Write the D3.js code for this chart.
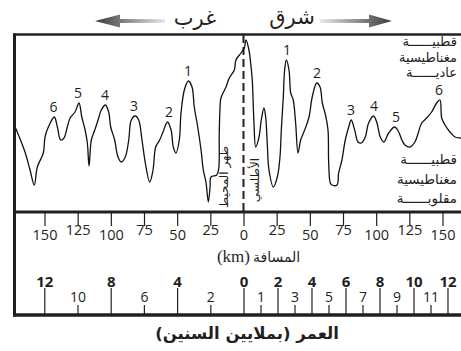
<!DOCTYPE html>
<html><head><meta charset="utf-8">
<script src="https://cdn.jsdelivr.net/npm/d3@7"></script>
<style>body{margin:0;background:#fff}svg{display:block}</style>
</head><body>
<svg id="c" width="461" height="351"></svg>
<script>
// ---- data ----
const distKm = [-171.8,-164.7,-160.9,-157.7,-155.4,-150.9,-149.6,-147.1,-142.6,-140.3,-137.8,-135.3,-132.8,-130.7,-127.0,-124.0,-121.9,-119.4,-117.7,-116.4,-114.7,-112.1,-109.6,-107.2,-104.1,-101.6,-100.1,-97.1,-94.6,-92.1,-89.1,-86.5,-84.6,-81.5,-79.0,-76.5,-74.0,-70.7,-68.2,-66.2,-63.2,-60.7,-57.3,-54.6,-52.9,-50.9,-48.4,-47.1,-44.6,-41.6,-38.8,-37.1,-34.5,-32.0,-30.3,-28.3,-26.5,-25.2,-24.5,-20.2,-18.7,-18.3,-17.7,-17.0,-13.2,-10.7,-6.9,-5.7,-1.9,0.6,1.9,4.1,5.4,6.6,7.9,9.2,11.7,13.4,15.4,16.7,17.9,19.2,22.5,25.5,27.5,28.5,30.0,31.0,32.3,34.3,35.6,37.5,39.3,41.1,43.1,46.1,49.4,51.8,55.2,57.7,59.4,61.8,63.7,64.2,65.4,66.7,70.5,71.7,74.2,76.7,79.3,81.2,83.8,86.3,88.8,91.8,94.3,98.1,100.6,103.1,105.7,109.4,113.9,117.0,119.4,121.7,125.5,129.2,131.7,134.3,138.1,141.8,145.6,148.1,149.4,151.9,155.6,159.4,163.9];
const anomaly = [-3,-27,-45,-60,-42,-28,-12,-2,8,-2,-15,-13,-2,7,13,22,8,-5,-18,-41,-15,-5,5,15,20,13,-2,-15,-32,-37,-32,-15,5,9,5,-15,-38,-57,-45,-22,-15,-7,3,-5,-22,-28,-15,12,35,44,38,18,-2,-25,-45,-57,-77,-62,-52,-50,-44,-10,17,27,38,47,55,65,72,77,85,75,62,45,2,-22,-12,5,17,8,-18,-45,-62,-52,-32,-5,28,55,65,55,32,25,2,-28,-15,-5,8,28,42,38,22,10,-5,-38,-58,-60,-60,-48,-35,-15,-2,5,-5,-17,-18,-12,2,9,2,-12,-17,-8,-2,-7,-15,-20,-22,-17,-8,2,7,13,22,25,7,0,-7,-12,-13];

const peakLabels = ["6","5","4","3","2","1","1","2","3","4","5","6"];
const peakKm     = [-143.3,-124.7,-104.4,-82.5,-56.1,-41.8,32.8,55.4,81.0,98.4,115.0,147.3];
const peakVal    = [8,22,20,9,3,44,65,42,5,9,-2,25];

const distTicks = [-150,-125,-100,-75,-50,-25,0,25,50,75,100,125,150];

const ageWestMajor = [12,8,4,0];
const ageWestMinor = [10,6,2];
const ageEastMajor = [2,4,6,8,10,12];
const ageEastMinor = [1,3,5,7,9,11];

const eastLabel = "شرق", westLabel = "غرب";
const normalLines = ["قطبيــــــة","مغناطيسية","عاديــــــة"];
const reversedLines = ["قطبيــــــة","مغناطيسية","مقلوبــــــة"];
const ridgeLines = ["ظهر المحيط","الأطلسي"];
const distTitle = "المسافة", distUnit = "(km)";
const ageTitle = "العمر (بملايين السنين)";

// ---- scales ----
const x = d3.scaleLinear().domain([-150,150]).range([44.5,442.5]);
const y = d3.scaleLinear().domain([-100,100]).range([225,25]);
const ageW = d3.scaleLinear().domain([0,12]).range([243.5,44.3]);
const ageE = d3.scaleLinear().domain([0,12]).range([243.5,447.5]);

const svg = d3.select("#c");
const ink = "#231f20";
const AR = "'DejaVu Sans', sans-serif";
const NUM = "'Open Sans', 'Liberation Sans', sans-serif";

// defs: gradients for arrows
const defs = svg.append("defs");
const gl = defs.append("linearGradient").attr("id","gl").attr("x1","0").attr("x2","1").attr("y1","0").attr("y2","0");
gl.append("stop").attr("offset","0").attr("stop-color","#3a3a3a");
gl.append("stop").attr("offset","1").attr("stop-color","#e6e6e6");
const gr = defs.append("linearGradient").attr("id","gr").attr("x1","0").attr("x2","1").attr("y1","0").attr("y2","0");
gr.append("stop").attr("offset","0").attr("stop-color","#e6e6e6");
gr.append("stop").attr("offset","1").attr("stop-color","#3a3a3a");

// arrows
svg.append("path").attr("d","M95,21 L120,14.5 L120,19 L165,19.2 L165,22.8 L120,23 L120,27.5 Z").attr("fill","url(#gl)");
svg.append("path").attr("d","M392,21 L369,14.5 L369,19 L320,19.2 L320,22.8 L369,23 L369,27.5 Z").attr("fill","url(#gr)");
svg.append("text").attr("x",195).attr("y",25).attr("text-anchor","middle").attr("font-family",AR).attr("font-size",21).attr("fill",ink).text(westLabel);
svg.append("text").attr("x",292).attr("y",24).attr("text-anchor","middle").attr("font-family",AR).attr("font-size",21).attr("fill",ink).text(eastLabel);

// frame
svg.append("line").attr("x1",13).attr("x2",461).attr("y1",34.5).attr("y2",34.5).attr("stroke",ink).attr("stroke-width",2.5);
svg.append("line").attr("x1",14.5).attr("x2",14.5).attr("y1",33.5).attr("y2",316.5).attr("stroke",ink).attr("stroke-width",3);

// dashed ridge line
svg.append("line").attr("x1",x(0)).attr("x2",x(0)).attr("y1",35).attr("y2",211).attr("stroke",ink).attr("stroke-width",2).attr("stroke-dasharray","8,4");

// curve
const line = d3.line().x((d,i)=>x(distKm[i])).y((d,i)=>y(anomaly[i])).curve(d3.curveCatmullRom.alpha(0.5));
svg.append("path").attr("d",line(distKm)).attr("fill","none").attr("stroke","#111").attr("stroke-width",1.3);

// peak labels
svg.append("g").selectAll("text").data(peakLabels).join("text")
  .attr("x",(d,i)=>x(peakKm[i])).attr("y",(d,i)=>y(peakVal[i])-5)
  .attr("text-anchor","middle").attr("font-family",NUM).attr("font-size",14).attr("fill",ink).text(d=>d);

// polarity labels
svg.append("g").selectAll("text").data(normalLines).join("text")
  .attr("x",457).attr("y",(d,i)=>46+i*15.5).attr("text-anchor","end").attr("font-family",AR).attr("font-size",13).attr("fill",ink).text(d=>d);
svg.append("g").selectAll("text").data(reversedLines).join("text")
  .attr("x",457).attr("y",(d,i)=>164+i*19.5).attr("text-anchor","end").attr("font-family",AR).attr("font-size",13.5).attr("fill",ink).text(d=>d);

// ridge labels (vertical)
svg.append("text").attr("transform","translate(228,177) rotate(-90)").attr("text-anchor","middle").attr("font-family",AR).attr("font-size",12).attr("fill",ink).text(ridgeLines[0]);
svg.append("text").attr("transform","translate(259,180) rotate(-90)").attr("text-anchor","middle").attr("font-family",AR).attr("font-size",12).attr("fill",ink).text(ridgeLines[1]);

// distance axis
svg.append("line").attr("x1",13).attr("x2",461).attr("y1",212).attr("y2",212).attr("stroke",ink).attr("stroke-width",3);
const dAxis = d3.axisBottom(x).tickValues(distTicks).tickSize(14).tickFormat(d=>Math.abs(d));
const dg = svg.append("g").attr("transform","translate(0,212)").call(dAxis);
dg.select(".domain").remove();
dg.selectAll(".tick line").attr("stroke",ink).attr("stroke-width",1.2);
dg.selectAll(".tick text").attr("font-family",NUM).attr("font-size",14.5).attr("fill",ink)
  .attr("dy",null).attr("y",d=>(Math.abs(d)%50===0)?28:23);
svg.append("text").attr("x",250).attr("y",262).attr("text-anchor","end").attr("font-family","'Liberation Serif', serif").attr("font-size",17).attr("fill",ink).text(distUnit);
svg.append("text").attr("x",253).attr("y",262).attr("text-anchor","start").attr("font-family",AR).attr("font-size",14).attr("fill",ink).text(distTitle);

// age axis
svg.append("line").attr("x1",13).attr("x2",461).attr("y1",315).attr("y2",315).attr("stroke",ink).attr("stroke-width",3.5);
function ageAxis(scale, majors, minors){
  const gM = svg.append("g").attr("transform","translate(0,315)")
    .call(d3.axisTop(scale).tickValues(majors).tickSize(27).tickFormat(d3.format("d")));
  gM.select(".domain").remove();
  gM.selectAll(".tick line").attr("stroke",ink).attr("stroke-width",1.2);
  gM.selectAll(".tick text").attr("font-family",NUM).attr("font-weight","bold").attr("font-size",15).attr("fill",ink).attr("y",-28).attr("dy",null);
  const gm = svg.append("g").attr("transform","translate(0,315)")
    .call(d3.axisTop(scale).tickValues(minors).tickSize(10).tickFormat(d3.format("d")));
  gm.select(".domain").remove();
  gm.selectAll(".tick line").attr("stroke",ink).attr("stroke-width",1.2);
  gm.selectAll(".tick text").attr("font-family",NUM).attr("font-size",14).attr("fill",ink).attr("y",-13).attr("dy",null);
}
ageAxis(ageW, ageWestMajor, ageWestMinor);
ageAxis(ageE, ageEastMajor, ageEastMinor);

svg.append("text").attr("x",247).attr("y",339).attr("text-anchor","middle").attr("direction","rtl")
  .attr("font-family",AR).attr("font-weight","bold").attr("font-size",16.5).attr("fill",ink).text(ageTitle);
</script>
</body></html>
